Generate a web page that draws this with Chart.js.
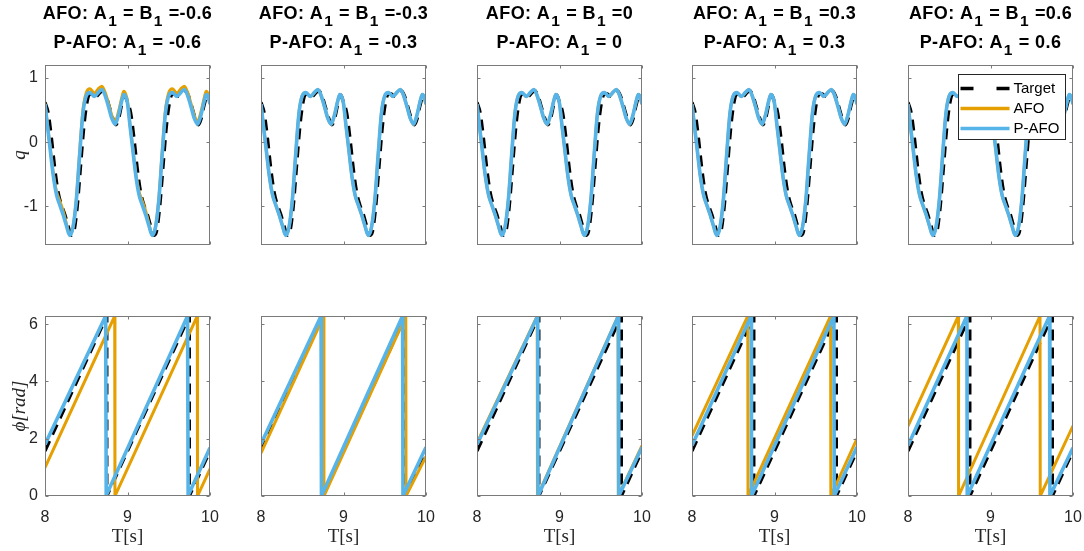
<!DOCTYPE html>
<html><head><meta charset="utf-8">
<script src="https://cdn.jsdelivr.net/npm/chart.js@4.4.0/dist/chart.umd.min.js"></script>
<style>
html,body{margin:0;padding:0;background:#fff;}
#wrap{position:relative;width:1084px;height:551px;overflow:hidden;background:#fff;}
.cv{position:absolute;}
</style></head><body><div id="wrap"></div>
<script>
// ---------- DATA ----------
const xTicks = [8, 9, 10];
const qTicks = [-1, 0, 1];
const phiTicks = [0, 2, 4, 6];
const titlesAfo = ['AFO: A\u2081 = B\u2081 =-0.6', 'AFO: A\u2081 = B\u2081 =-0.3', 'AFO: A\u2081 = B\u2081 =0', 'AFO: A\u2081 = B\u2081 =0.3', 'AFO: A\u2081 = B\u2081 =0.6'];
const titlesPafo = ['P-AFO: A\u2081 = -0.6', 'P-AFO: A\u2081 = -0.3', 'P-AFO: A\u2081 = 0', 'P-AFO: A\u2081 = 0.3', 'P-AFO: A\u2081 = 0.6'];
const seriesNames = ['Target', 'AFO', 'P-AFO'];

// top row: q
const tQTarget = [8.00,8.04,8.08,8.12,8.16,8.20,8.24,8.28,8.32,8.35,8.39,8.43,8.47,8.51,8.54,8.58,8.62,8.66,8.70,8.74,8.78,8.82,8.86,8.89,8.93,8.97,
                  9.00,9.04,9.08,9.12,9.16,9.20,9.24,9.28,9.32,9.35,9.39,9.43,9.47,9.51,9.54,9.58,9.62,9.66,9.70,9.74,9.78,9.82,9.86,9.89,9.93,9.97,10.00];
const qTarget = [0.62,0.45,0.05,-0.42,-0.78,-0.98,-1.12,-1.30,-1.45,-1.40,-1.02,-0.40,0.22,0.62,0.74,0.75,0.71,0.76,0.80,0.72,0.55,0.38,0.27,0.35,0.58,0.73,
                 0.62,0.45,0.05,-0.42,-0.78,-0.98,-1.12,-1.30,-1.45,-1.40,-1.02,-0.40,0.22,0.62,0.74,0.75,0.71,0.76,0.80,0.72,0.55,0.38,0.27,0.35,0.58,0.73,0.62];
const tQEst = [8.00,8.03,8.06,8.10,8.14,8.18,8.22,8.26,8.30,8.34,8.38,8.42,8.46,8.50,8.545,8.60,8.645,8.69,8.73,8.77,8.81,8.85,8.89,8.93,8.955,8.98,
               9.00,9.03,9.06,9.10,9.14,9.18,9.22,9.26,9.30,9.34,9.38,9.42,9.46,9.50,9.545,9.60,9.645,9.69,9.73,9.77,9.81,9.85,9.89,9.93,9.955,9.98,10.00];
const qPafo = [0.59,0.25,-0.08,-0.52,-0.82,-0.98,-1.13,-1.30,-1.45,-1.32,-0.90,-0.20,0.45,0.72,0.77,0.71,0.77,0.82,0.72,0.55,0.37,0.28,0.42,0.64,0.74,0.70,
               0.60,0.26,-0.07,-0.51,-0.82,-0.98,-1.13,-1.30,-1.45,-1.32,-0.90,-0.20,0.45,0.72,0.77,0.71,0.77,0.82,0.72,0.55,0.37,0.28,0.42,0.64,0.74,0.70,0.59];
const qAfoCol1 = [0.60,0.27,-0.05,-0.48,-0.77,-0.92,-1.07,-1.27,-1.44,-1.32,-0.88,-0.16,0.50,0.77,0.83,0.76,0.83,0.87,0.77,0.60,0.42,0.32,0.47,0.69,0.79,0.74,
                  0.64,0.28,-0.05,-0.48,-0.77,-0.92,-1.07,-1.27,-1.44,-1.32,-0.88,-0.16,0.50,0.77,0.83,0.76,0.83,0.87,0.77,0.60,0.42,0.32,0.47,0.69,0.79,0.74,0.64];

// bottom row: phase
const tPhiTarget = [8, 8.75, 8.75, 9.75, 9.75, 10];
const phiTarget  = [1.571, 6.283, 0, 6.283, 0, 1.571];

const tPhiAfo1 = [8, 8.845, 8.848, 9.846, 9.849, 10];
const phiAfo1  = [0.99, 6.283, 0, 6.283, 0, 0.95];
const tPhiPafo1 = [8, 8.735, 8.742, 9.728, 9.735, 10];
const phiPafo1  = [1.80, 6.283, 0.02, 6.283, 0.02, 1.68];

const tPhiAfo2 = [8, 8.76, 8.763, 9.755, 9.758, 10];
const phiAfo2  = [1.50, 6.283, 0, 6.283, 0, 1.38];
const tPhiPafo2 = [8, 8.728, 8.733, 9.716, 9.721, 10];
const phiPafo2  = [1.82, 6.283, 0, 6.283, 0, 1.70];

const tPhiAfo3 = [8, 8.73, 8.733, 9.71, 9.713, 10];
const phiAfo3  = [1.86, 6.283, 0, 6.283, 0, 1.76];
const tPhiPafo3 = [8, 8.736, 8.74, 9.714, 9.718, 10];
const phiPafo3  = [1.80, 6.283, 0, 6.283, 0, 1.70];

const tPhiAfo4 = [8, 8.676, 8.679, 9.68, 9.683, 10];
const phiAfo4  = [2.10, 6.283, 0, 6.283, 0, 2.00];
const tPhiPafo4 = [8, 8.717, 8.721, 9.72, 9.724, 10];
const phiPafo4  = [1.76, 6.283, 0, 6.283, 0, 1.71];

const tPhiAfo5 = [8, 8.61, 8.613, 9.60, 9.603, 10];
const phiAfo5  = [2.44, 6.283, 0, 6.283, 0, 2.45];
const tPhiPafo5 = [8, 8.714, 8.718, 9.716, 9.72, 10];
const phiPafo5  = [1.76, 6.283, 0, 6.283, 0, 1.68];

const phiAfo = [[tPhiAfo1,phiAfo1],[tPhiAfo2,phiAfo2],[tPhiAfo3,phiAfo3],[tPhiAfo4,phiAfo4],[tPhiAfo5,phiAfo5]];
const phiPafo = [[tPhiPafo1,phiPafo1],[tPhiPafo2,phiPafo2],[tPhiPafo3,phiPafo3],[tPhiPafo4,phiPafo4],[tPhiPafo5,phiPafo5]];

// ---------- STYLE / LAYOUT ----------
const ORANGE = '#E69F00', BLUE = '#56B4E9', BLACK = '#000000';
const AXIS = '#7a7a7a', TXT = '#262626';
const COL_L = [45, 261, 477, 692, 908];
const PW = 165;
const SANS = '"Liberation Sans", Arial, Helvetica, sans-serif';
const SERIF = '"Liberation Serif", "Times New Roman", serif';

function pts(t, v){ return t.map((x, i) => ({x: x, y: v[i]})); }

const boxPlugin = {
  id: 'boxTicks',
  afterDatasetsDraw(chart){
    const {ctx, chartArea: a} = chart;
    const xs = chart.scales.x, ys = chart.scales.y;
    const l = Math.round(a.left) + 0.5, r = Math.round(a.right) - 0.5;
    const t = Math.round(a.top) + 0.5, b = Math.round(a.bottom) - 0.5;
    ctx.save();
    ctx.strokeStyle = AXIS; ctx.lineWidth = 1;
    ctx.strokeRect(l, t, r - l, b - t);
    ctx.beginPath();
    xs.ticks.forEach(tk => {
      const p = Math.round(xs.getPixelForValue(tk.value)) + 0.5;
      ctx.moveTo(p, b); ctx.lineTo(p, b - 3);
      ctx.moveTo(p, t); ctx.lineTo(p, t + 3);
    });
    ys.ticks.forEach(tk => {
      const p = Math.round(ys.getPixelForValue(tk.value)) + 0.5;
      ctx.moveTo(l, p); ctx.lineTo(l + 3, p);
      ctx.moveTo(r, p); ctx.lineTo(r - 3, p);
    });
    ctx.stroke();
    ctx.restore();
  }
};

// Title with real subscripts: the character U+2081 is drawn as a lowered "1".
const subTitle = {
  id: 'subTitle',
  afterDraw(chart, args, opts){
    if (!opts || !opts.lines) return;
    const {ctx, chartArea: a} = chart;
    const cxm = (a.left + a.right) / 2;
    const mainFont = 'bold 18px ' + SANS, subFont = 'bold 15.5px ' + SANS;
    ctx.save();
    ctx.fillStyle = '#000';
    ctx.textBaseline = 'alphabetic';
    ctx.textAlign = 'left';
    try { ctx.letterSpacing = '0.4px'; } catch (e) {}
    opts.lines.forEach((line, i) => {
      const segs = [];
      let buf = '';
      for (const ch of line){
        if (ch === '\u2081'){ if (buf) segs.push({t: buf, sub: false}); buf = ''; segs.push({t: '1', sub: true}); }
        else buf += ch;
      }
      if (buf) segs.push({t: buf, sub: false});
      let total = 0;
      segs.forEach(s => { ctx.font = s.sub ? subFont : mainFont; s.w = ctx.measureText(s.t).width + (s.sub ? 1.5 : 0); total += s.w; });
      let x = cxm - total / 2;
      const base = opts.baselines[i];
      segs.forEach(s => {
        ctx.font = s.sub ? subFont : mainFont;
        ctx.fillText(s.t, x + (s.sub ? 1 : 0), base + (s.sub ? 7 : 0));
        x += s.w;
      });
    });
    ctx.restore();
  }
};

const innerLegend = {
  id: 'innerLegend',
  afterDraw(chart, args, opts){
    if (!opts || !opts.display) return;
    const {ctx, chartArea: a} = chart;
    const w = 107, h = 65;
    const x0 = Math.round(a.right - 8 - w) + 0.5, y0 = Math.round(a.top + 9) + 0.5;
    ctx.save();
    ctx.fillStyle = '#ffffff';
    ctx.fillRect(x0, y0, w, h);
    ctx.strokeStyle = TXT; ctx.lineWidth = 1;
    ctx.strokeRect(x0, y0, w, h);
    chart.data.datasets.forEach((ds, i) => {
      const yy = y0 + 14 + i * 20;
      ctx.beginPath();
      ctx.strokeStyle = ds.borderColor;
      ctx.lineWidth = 3.5;
      ctx.setLineDash(ds.borderDash && ds.borderDash.length ? [13, 23] : []);
      ctx.moveTo(x0 + 2, yy); ctx.lineTo(x0 + 51, yy);
      ctx.stroke();
      ctx.setLineDash([]);
      ctx.fillStyle = '#000';
      ctx.font = '15px ' + SANS;
      ctx.textBaseline = 'middle';
      ctx.textAlign = 'left';
      ctx.fillText(ds.label, x0 + 55, yy);
    });
    ctx.restore();
  }
};

function makeChart(row, col){
  const L = COL_L[col], R = L + PW;
  const ml = col === 0 ? 45 : 20;
  const mr = col === 4 ? 1084 - R : 20;
  const cx = L - ml, cw = ml + PW + mr;
  let cy, ch, xAxisH, padTop;
  if (row === 0){ cy = -2; ch = 255; xAxisH = 8; padTop = 67; }
  else { cy = 306; ch = 245; xAxisH = 55; padTop = 10; }

  const div = document.createElement('div');
  div.className = 'cv';
  div.style.left = cx + 'px'; div.style.top = cy + 'px';
  div.style.width = cw + 'px'; div.style.height = ch + 'px';
  const cv = document.createElement('canvas');
  cv.width = cw; cv.height = ch;
  cv.style.width = cw + 'px'; cv.style.height = ch + 'px';
  div.appendChild(cv);
  document.getElementById('wrap').appendChild(div);

  let dT, dA, dP;
  if (row === 0){
    dT = pts(tQTarget, qTarget);
    dA = pts(tQEst, col === 0 ? qAfoCol1 : qPafo);
    dP = pts(tQEst, qPafo);
  } else {
    dT = pts(tPhiTarget, phiTarget);
    dA = pts(phiAfo[col][0], phiAfo[col][1]);
    dP = pts(phiPafo[col][0], phiPafo[col][1]);
  }
  const interp = row === 0 ? 'monotone' : 'default';

  new Chart(cv, {
    type: 'line',
    data: {
      datasets: [
        {label: seriesNames[0], data: dT, borderColor: BLACK, borderWidth: 3.2, borderDash: [11, 7], order: 3, cubicInterpolationMode: interp},
        {label: seriesNames[1], data: dA, borderColor: ORANGE, borderWidth: 3, order: 2, cubicInterpolationMode: interp},
        {label: seriesNames[2], data: dP, borderColor: BLUE, borderWidth: 3.6, order: 1, cubicInterpolationMode: interp}
      ]
    },
    options: {
      animation: false,
      responsive: false,
      devicePixelRatio: 1,
      elements: {point: {radius: 0}, line: {tension: 0, borderJoinStyle: 'round', fill: false}},
      layout: {padding: {left: 0, right: mr, top: padTop, bottom: 0}},
      plugins: {
        legend: {display: false},
        tooltip: {enabled: false},
        title: {display: false},
        subTitle: row === 0 ? {lines: [titlesAfo[col], titlesPafo[col]], baselines: [20.5, 50.3]} : {},
        innerLegend: {display: row === 0 && col === 4}
      },
      scales: {
        x: {
          type: 'linear', min: 8, max: 10,
          afterBuildTicks: s => { s.ticks = xTicks.map(v => ({value: v})); },
          afterFit: s => { s.height = xAxisH; s.paddingLeft = 0; s.paddingRight = 0; },
          grid: {display: false, drawTicks: false},
          border: {display: false},
          ticks: {display: row === 1, autoSkip: false, maxRotation: 0, minRotation: 0, padding: 12,
                  color: TXT, font: {family: SANS, size: 16}},
          title: {display: row === 1, text: 'T[s]', color: TXT,
                  font: {family: SERIF, size: 19},
                  padding: {top: 0, bottom: 3}}
        },
        y: {
          type: 'linear',
          min: row === 0 ? -1.6 : 0,
          max: row === 0 ? 1.2 : 6.2832,
          afterBuildTicks: s => { s.ticks = (row === 0 ? qTicks : phiTicks).map(v => ({value: v})); },
          afterFit: s => { s.width = ml; s.paddingTop = 0; s.paddingBottom = 0; },
          grid: {display: false, drawTicks: false},
          border: {display: false},
          ticks: {display: col === 0, autoSkip: false, padding: 7,
                  color: TXT, font: {family: SANS, size: 16}},
          title: {display: col === 0, text: row === 0 ? 'q' : '\u03D5[rad]', color: TXT,
                  font: {family: SERIF, style: 'italic', size: 19},
                  padding: {top: 9, bottom: 0}}
        }
      }
    },
    plugins: [boxPlugin, innerLegend, subTitle]
  });
}

for (let r = 0; r < 2; r++) for (let c = 0; c < 5; c++) makeChart(r, c);
</script>
</body></html>
